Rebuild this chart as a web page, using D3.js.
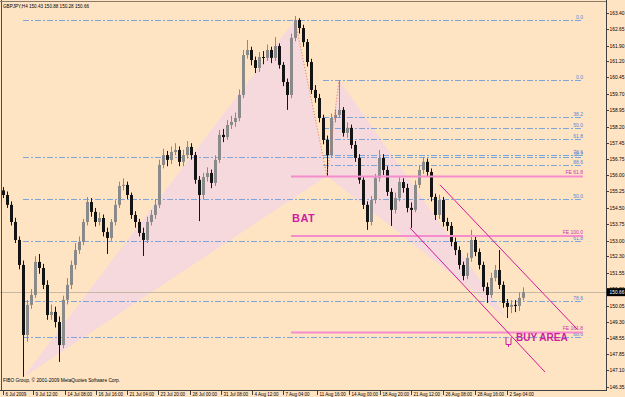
<!DOCTYPE html>
<html>
<head>
<meta charset="utf-8">
<script src="https://cdn.jsdelivr.net/npm/d3@7"></script>
<style>
body { margin: 0; background: #ffe4c4; }
svg { display: block; font-family: "Liberation Sans", Arial, sans-serif; }
</style>
</head>
<body>
<div id="canvas"></div>
<script>
"use strict";

/* Configuration variables: drawing */
let svgWidth = 625;
let svgHeight = 397;
let plotRight = 606;
let plotBottom = 390;

/* GBPJPY H4 candles (open = previous close) */
let firstOpen = 155.30;
let closes = [
  155.09, 154.64, 153.86, 153.04, 151.90, 148.71, 150.08, 150.53, 152.04, 151.76,
  150.99, 149.62, 149.76, 149.30, 148.25, 150.31, 150.99, 151.90, 152.58, 152.95,
  153.86, 154.77, 154.32, 153.86, 154.04, 153.40, 153.13, 153.86, 154.64, 155.50,
  155.55, 155.09, 154.18, 153.86, 153.36, 153.04, 153.86, 154.18, 154.64, 156.46,
  156.91, 156.69, 157.05, 157.14, 156.60, 156.91, 157.28, 156.91, 155.78, 155.09,
  155.91, 156.09, 155.64, 156.69, 157.83, 157.73, 158.28, 158.42, 158.60, 159.65,
  161.47, 161.70, 161.24, 160.88, 161.38, 161.34, 161.70, 161.34, 161.88, 161.02,
  160.24, 159.65, 162.25, 163.07, 162.70, 162.06, 161.15, 159.88, 159.51, 158.60,
  157.60, 156.91, 158.60, 158.74, 158.97, 157.92, 158.15, 157.37, 156.78, 155.78,
  154.64, 153.86, 154.86, 155.87, 156.78, 156.23, 155.23, 154.41, 154.95, 155.68,
  155.41, 154.50, 154.41, 155.55, 156.23, 156.60, 156.14, 155.00, 154.18, 154.86,
  153.86, 153.68, 152.95, 152.58, 151.90, 151.40, 152.22, 153.04, 152.49, 151.90,
  150.90, 150.53, 151.31, 151.67, 150.99, 150.17, 149.99, 150.08, 150.03, 150.40,
  150.66
];
let highs = [
  155.45, 155.25, 154.80, 154.05, 153.20, 152.10, 150.30, 150.80, 152.30, 152.40,
  151.95, 151.20, 150.10, 150.00, 149.55, 150.50, 151.30, 152.10, 152.90, 153.20,
  154.00, 155.00, 154.95, 154.50, 154.30, 154.20, 153.60, 154.00, 154.85, 155.70,
  155.85, 155.70, 155.20, 154.35, 154.00, 153.60, 154.10, 154.40, 154.90, 156.70,
  157.20, 157.10, 157.30, 157.45, 157.30, 157.15, 157.55, 157.45, 157.05, 155.95,
  156.10, 156.35, 156.25, 156.90, 158.05, 158.10, 158.50, 158.70, 158.85, 159.90,
  161.70, 162.16, 161.85, 161.40, 161.60, 161.65, 161.95, 161.85, 162.29, 162.00,
  161.15, 160.40, 162.45, 163.25, 163.15, 162.85, 162.20, 161.30, 160.10, 159.70,
  158.75, 157.80, 158.80, 159.00, 160.33, 159.10, 158.40, 158.30, 157.55, 156.95,
  155.95, 154.80, 155.05, 156.05, 157.14, 156.95, 156.40, 155.40, 155.20, 155.90,
  155.85, 155.60, 154.75, 155.75, 156.45, 156.82, 156.75, 156.30, 155.15, 155.10,
  155.00, 154.05, 153.85, 153.15, 152.75, 152.05, 152.45, 153.50, 153.20, 152.65,
  152.05, 151.10, 151.55, 151.90, 152.58, 151.15, 150.35, 150.30, 150.30, 150.65,
  150.88
];
let lows = [
  154.95, 154.50, 153.70, 152.90, 151.70, 146.80, 148.40, 149.90, 150.40, 151.50,
  150.80, 149.40, 149.40, 149.05, 147.48, 148.10, 150.10, 150.80, 151.70, 152.40,
  152.80, 153.70, 154.10, 153.65, 153.70, 153.20, 152.40, 153.00, 153.70, 154.50,
  155.30, 154.90, 154.00, 153.60, 153.20, 152.31, 152.90, 153.70, 154.00, 154.50,
  156.30, 156.40, 156.50, 156.90, 156.40, 156.40, 156.75, 156.70, 155.60, 153.90,
  154.90, 155.70, 155.40, 155.50, 156.55, 157.50, 157.60, 158.10, 158.20, 158.45,
  159.50, 161.30, 161.00, 160.65, 160.70, 161.05, 161.20, 161.10, 161.20, 160.85,
  160.05, 158.97, 159.50, 162.10, 162.45, 161.85, 160.95, 159.70, 159.30, 158.40,
  157.40, 155.95, 156.80, 158.40, 158.60, 157.75, 157.70, 157.20, 156.60, 155.60,
  154.45, 153.50, 153.70, 154.70, 155.70, 156.00, 155.05, 153.68, 154.25, 154.80,
  155.20, 154.30, 153.59, 154.30, 155.40, 156.05, 155.95, 154.80, 153.95, 154.00,
  153.65, 153.45, 152.75, 152.35, 151.70, 151.20, 151.25, 152.05, 152.30, 151.70,
  150.70, 150.17, 150.40, 151.15, 150.80, 149.95, 149.48, 149.70, 149.75, 149.80,
  150.28
];

/* Axis labels */
let priceTicks = [163.40, 162.65, 161.90, 161.20, 160.45, 159.70, 158.95, 158.20,
  157.45, 156.75, 156.00, 155.25, 154.50, 153.75, 153.00, 152.30, 151.55, 150.80,
  150.05, 149.30, 148.55, 147.85, 147.10, 146.35];
let timeLabels = ["6 Jul 2009", "9 Jul 12:00", "14 Jul 08:00", "16 Jul 16:00",
  "21 Jul 04:00", "23 Jul 20:00", "28 Jul 00:00", "31 Jul 08:00", "4 Aug 12:00",
  "7 Aug 04:00", "11 Aug 16:00", "14 Aug 00:00", "18 Aug 20:00", "21 Aug 12:00",
  "26 Aug 08:00", "28 Aug 16:00", "2 Sep 04:00"];
let timeLabelBars = [0, 7.5, 15.5, 23.25, 31, 38.75, 46.75, 54.5, 62.25, 70,
  78.5, 86.5, 94.25, 102, 110, 118, 126];

/* Bat pattern points X, A, B, C, D (bar index, price) */
let batBars = [5, 73, 81, 84, 126];
let batPrices = [146.77, 163.07, 155.96, 160.33, 149.48];

/* Fibonacci objects */
let fibRatios = [0, 38.2, 50, 61.8, 78.6, 88.6];
let fibLabels = ["0.0", "38.2", "50.0", "61.8", "78.6", "88.6"];
let feRatios = [61.8, 100, 161.8];
let feLabels = ["FE 61.8", "FE 100.0", "FE 161.8"];
let levelEndBar = 145;

/* Channel trend lines: [startBar, startPrice, endBar, endPrice] */
let channelUpper = [109.25, 155.55, 143.5, 148.98];
let channelLower = [101.75, 153.59, 135.5, 147.02];

let lastPrice = 150.66;

/* Create drawing canvas */
let svg = d3.select("#canvas")
  .append("svg")
  .attr("width", svgWidth)
  .attr("height", svgHeight);

svg.append("rect")
  .attr("width", svgWidth)
  .attr("height", svgHeight)
  .attr("fill", "#ffe4c4");

/* Scales */
let xScale = d3.scaleLinear()
  .domain([0, closes.length - 1])
  .range([3, 523]);

let yScale = d3.scaleLinear()
  .domain([146.35, 163.40])
  .range([386.7, 12.7]);

function px(bar) { return xScale(bar); }
function py(price) { return yScale(price); }

let pts = batBars.map(function (b, i) { return [px(b), py(batPrices[i])]; });

/* Bat shading: XAB and BCD */
svg.append("polygon")
  .attr("points", [pts[0], pts[1], pts[2]].join(" "))
  .attr("fill", "#f6d9dc");
svg.append("polygon")
  .attr("points", [pts[2], pts[3], pts[4]].join(" "))
  .attr("fill", "#f6d9dc");

/* Fibo retracement levels */
function drawFib(hi, lo, startBar) {
  for (let i = 0; i < fibRatios.length; i = i + 1) {
    let level = hi - fibRatios[i] / 100 * (hi - lo);
    let y = Math.round(py(level)) + 0.5;
    svg.append("line")
      .attr("x1", px(startBar))
      .attr("x2", px(levelEndBar))
      .attr("y1", y)
      .attr("y2", y)
      .attr("stroke", "#7ea6dc")
      .attr("stroke-dasharray", "6,2,2,2");
    svg.append("text")
      .attr("x", px(levelEndBar))
      .attr("y", y - 1.5)
      .attr("text-anchor", "end")
      .attr("font-size", "5px")
      .attr("fill", "#4f86d6")
      .text(fibLabels[i]);
  }
}
drawFib(batPrices[1], batPrices[0], batBars[0]);
drawFib(batPrices[3], batPrices[2], 80);

/* Current price line */
svg.append("line")
  .attr("x1", 0)
  .attr("x2", plotRight)
  .attr("y1", Math.round(py(lastPrice)) + 0.5)
  .attr("y2", Math.round(py(lastPrice)) + 0.5)
  .attr("stroke", "#c9b8a6");

/* Candles */
let candles = svg.selectAll("g.candle")
  .data(closes)
  .enter()
  .append("g")
  .attr("class", "candle");

candles.each(function (c, i) {
  let o = i === 0 ? firstOpen : closes[i - 1];
  let col = c >= o ? "#8a8a8a" : "#141414";
  let x = Math.round(px(i));
  let g = d3.select(this);
  g.append("line")
    .attr("x1", x + 0.5)
    .attr("x2", x + 0.5)
    .attr("y1", py(highs[i]))
    .attr("y2", py(lows[i]))
    .attr("stroke", col);
  g.append("rect")
    .attr("x", x - 1)
    .attr("y", Math.min(py(o), py(c)))
    .attr("width", 3)
    .attr("height", Math.max(1, Math.abs(py(o) - py(c))))
    .attr("fill", col);
});

/* Dotted pattern legs */
svg.append("polyline")
  .attr("points", [pts[1], pts[2], pts[3]].join(" "))
  .attr("fill", "none")
  .attr("stroke", "#e6704e")
  .attr("stroke-dasharray", "1,2");

/* Fibo expansion levels */
for (let i = 0; i < feRatios.length; i = i + 1) {
  let level = batPrices[3] - feRatios[i] / 100 * (batPrices[1] - batPrices[2]);
  svg.append("line")
    .attr("x1", px(72))
    .attr("x2", px(levelEndBar))
    .attr("y1", py(level))
    .attr("y2", py(level))
    .attr("stroke", "#f58ccb")
    .attr("stroke-width", 2);
  svg.append("text")
    .attr("x", px(levelEndBar))
    .attr("y", py(level) - 2)
    .attr("text-anchor", "end")
    .attr("font-size", "5px")
    .attr("fill", "#c832b4")
    .text(feLabels[i]);
}

/* Channel */
[channelUpper, channelLower].forEach(function (c) {
  svg.append("line")
    .attr("x1", px(c[0]))
    .attr("y1", py(c[1]))
    .attr("x2", px(c[2]))
    .attr("y2", py(c[3]))
    .attr("stroke", "#d6169a");
});

/* Annotations */
svg.append("text")
  .attr("x", 292)
  .attr("y", 222)
  .attr("font-size", "11px")
  .attr("font-weight", "bold")
  .attr("letter-spacing", "0.5px")
  .attr("fill", "#cc1ea0")
  .text("BAT");

svg.append("text")
  .attr("x", 516)
  .attr("y", 341)
  .attr("font-size", "10px")
  .attr("font-weight", "bold")
  .attr("fill", "#cc1ea0")
  .text("BUY AREA");

let ax = Math.round(px(batBars[4])) - 1;
svg.append("path")
  .attr("d", "M" + ax + ",337.5V344.5H" + (ax + 5) + "V337.5M" + (ax + 2.5) + ",344.5V347")
  .attr("fill", "none")
  .attr("stroke", "#cc1ea0");

/* Top-left title and copyright */
svg.append("text")
  .attr("x", 3)
  .attr("y", 8)
  .attr("font-size", "4.6px")
  .attr("fill", "#000")
  .text("GBPJPY,H4  150.43 150.88 150.28 150.66");

svg.append("text")
  .attr("x", 3)
  .attr("y", 382)
  .attr("font-size", "4.8px")
  .attr("fill", "#000")
  .text("FIBO Group, \u00a9 2001-2009 MetaQuotes Software Corp.");

/* Frame */
svg.append("line")
  .attr("x1", 1.5).attr("x2", 1.5)
  .attr("y1", 0).attr("y2", plotBottom)
  .attr("stroke", "#5a4a3a");
svg.append("line")
  .attr("x1", 0).attr("x2", plotRight)
  .attr("y1", 1.5).attr("y2", 1.5)
  .attr("stroke", "#8a7a6a");
svg.append("line")
  .attr("x1", plotRight + 0.5).attr("x2", plotRight + 0.5)
  .attr("y1", 0).attr("y2", plotBottom)
  .attr("stroke", "#404040");
svg.append("line")
  .attr("x1", 0).attr("x2", plotRight + 1)
  .attr("y1", plotBottom + 0.5).attr("y2", plotBottom + 0.5)
  .attr("stroke", "#404040");

/* Price axis */
priceTicks.forEach(function (t) {
  let y = Math.round(py(t)) + 0.5;
  svg.append("line")
    .attr("x1", plotRight).attr("x2", plotRight + 3)
    .attr("y1", y).attr("y2", y)
    .attr("stroke", "#404040");
  svg.append("text")
    .attr("x", 609.5)
    .attr("y", y + 1.8)
    .attr("font-size", "4.9px")
    .attr("fill", "#000")
    .text(t.toFixed(2));
});

/* Last price tag */
svg.append("rect")
  .attr("x", 607)
  .attr("y", py(lastPrice) - 4)
  .attr("width", 18)
  .attr("height", 8)
  .attr("fill", "#000");
svg.append("text")
  .attr("x", 609.5)
  .attr("y", py(lastPrice) + 1.8)
  .attr("font-size", "4.9px")
  .attr("fill", "#fff")
  .text(lastPrice.toFixed(2));

/* Time axis */
timeLabels.forEach(function (t, i) {
  let x = Math.round(px(timeLabelBars[i])) + 0.5;
  svg.append("line")
    .attr("x1", x).attr("x2", x)
    .attr("y1", plotBottom).attr("y2", plotBottom + 5)
    .attr("stroke", "#404040");
  svg.append("text")
    .attr("x", x + 2)
    .attr("y", 396)
    .attr("font-size", "4.5px")
    .attr("fill", "#000")
    .text(t);
});
</script>
</body>
</html>
